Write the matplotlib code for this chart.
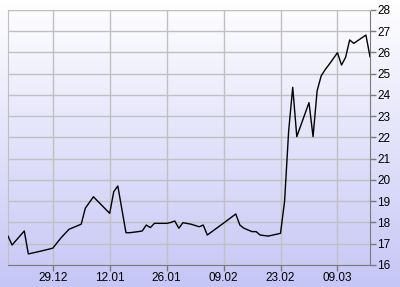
import numpy as np
import matplotlib
matplotlib.use("Agg")
import matplotlib.pyplot as plt
import matplotlib.dates as mdates
from matplotlib.colors import LinearSegmentedColormap

# price series
dates = ["2014-12-18", "2014-12-19", "2014-12-22", "2014-12-23", "2014-12-26",
         "2014-12-29", "2014-12-31", "2015-01-02", "2015-01-05", "2015-01-06",
         "2015-01-08", "2015-01-12", "2015-01-13", "2015-01-14", "2015-01-16",
         "2015-01-17", "2015-01-19", "2015-01-20", "2015-01-21", "2015-01-22",
         "2015-01-23", "2015-01-26", "2015-01-27", "2015-01-28", "2015-01-29",
         "2015-01-30", "2015-02-01", "2015-02-03", "2015-02-04", "2015-02-05",
         "2015-02-09", "2015-02-12", "2015-02-13", "2015-02-14", "2015-02-16",
         "2015-02-17", "2015-02-18", "2015-02-20", "2015-02-23", "2015-02-24",
         "2015-02-25", "2015-02-26", "2015-02-27", "2015-03-02", "2015-03-03",
         "2015-03-04", "2015-03-05", "2015-03-06", "2015-03-07", "2015-03-09",
         "2015-03-10", "2015-03-11", "2015-03-12", "2015-03-13", "2015-03-16",
         "2015-03-17"]
values = [17.36, 16.94, 17.60, 16.52, 16.65,
          16.79, 17.27, 17.68, 17.92, 18.67,
          19.21, 18.43, 19.45, 19.72, 17.52,
          17.52, 17.57, 17.60, 17.88, 17.76,
          17.96, 17.96, 18.00, 18.07, 17.73,
          17.99, 17.92, 17.80, 17.88, 17.41,
          17.97, 18.40, 17.88, 17.73, 17.57,
          17.57, 17.41, 17.36, 17.49, 19.00,
          22.30, 24.36, 22.04, 23.64, 22.04,
          24.20, 24.90, 25.20, 25.45, 25.99,
          25.41, 25.77, 26.59, 26.43, 26.82,
          25.80]

tick_dates = ["2014-12-29", "2015-01-12", "2015-01-26", "2015-02-09",
              "2015-02-23", "2015-03-09"]
tick_labels = ["29.12", "12.01", "26.01", "09.02", "23.02", "09.03"]
y_ticks = list(range(16, 29))

x = mdates.date2num(np.array(dates, dtype="datetime64[D]"))
xt = mdates.date2num(np.array(tick_dates, dtype="datetime64[D]"))

plt.rcParams['font.family'] = ['Liberation Sans', 'DejaVu Sans']

fig = plt.figure(figsize=(4.0, 2.87), dpi=100)

# background gradient over the whole figure
bg = fig.add_axes([0, 0, 1, 1], zorder=0)
cmap = LinearSegmentedColormap.from_list("bg", ["#ffffff", "#c6c6f6"])
bg.imshow(np.linspace(0, 1, 256).reshape(-1, 1), aspect="auto", cmap=cmap,
          extent=[0, 1, 0, 1])
bg.set_axis_off()

ax = fig.add_axes([0.02, 0.0767, 0.905, 0.8885], zorder=1)
ax.patch.set_alpha(0)

ax.plot(x, values, color="black", lw=1.0, zorder=3)

ax.set_xlim(x[0], x[-1])
ax.set_ylim(16, 28)
ax.set_xticks(xt)
ax.set_xticklabels(tick_labels)
ax.set_yticks(y_ticks)

ax.yaxis.tick_right()
ax.grid(True, color="#c0c0c0", lw=1.0, zorder=1)
ax.tick_params(axis="both", labelsize=8.5, colors="#7a7a7a", labelcolor="black",
               length=4, width=1, pad=1)

for side in ["left", "top"]:
    ax.spines[side].set_color("#c0c0c0")
for side in ["right", "bottom"]:
    ax.spines[side].set_color("#7a7a7a")

fig.savefig("out.png", dpi=100)
